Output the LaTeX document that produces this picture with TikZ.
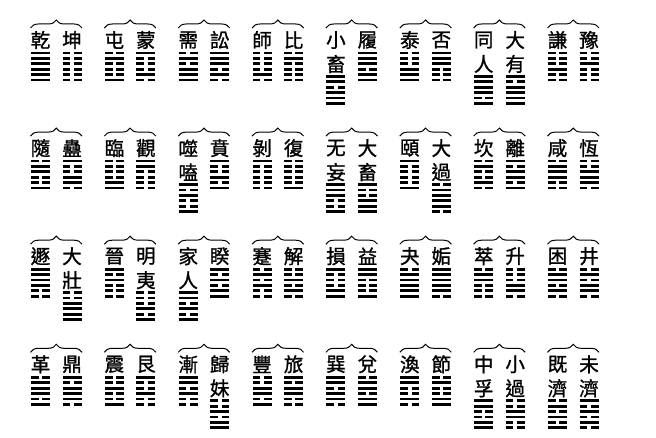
\documentclass[tikz,border=0pt]{standalone}
\usepackage{fontspec}
\newfontfamily\cjk[FakeBold=1.2]{Noto Sans CJK TC}
\usetikzlibrary{decorations.pathreplacing}
\tikzset{
  gname/.style={font=\cjk\fontsize{19.5}{19.5}\selectfont, inner sep=0pt},
  yao/.style={line width=2.8pt},
  brc/.style={decorate, decoration={brace, amplitude=8pt}, line width=1pt}
}
% #1 node name, #2 x centre, #3 y of first character, #4 char 1, #5 char 2, #6 lines top to bottom
\newcommand\gua[6]{%
  \node[gname] (#1a) at (#2,#3) {#4};
  \def\tmpb{#5}%
  \ifx\tmpb\empty
    \pgfmathsetmacro\hy{#3+13}%
  \else
    \node[gname] (#1b) at (#2,#3+24) {#5};
    \pgfmathsetmacro\hy{#3+36.5}%
  \fi
  \foreach \b [count=\k from 0] in {#6} {
    \pgfmathsetmacro\yy{\hy+5.4*\k}
    \ifnum\b=1
      \draw[yao] (#2-9.5,\yy) -- (#2+9.5,\yy);
    \else
      \draw[yao] (#2-9.5,\yy) -- (#2-1.8,\yy);
      \draw[yao] (#2+1.8,\yy) -- (#2+9.5,\yy);
    \fi
  }%
}
% #1 col, #2 row, #3 #4 left name, #5 left lines, #6 #7 right name, #8 right lines
\newcommand\duigua[8]{%
  \pgfmathsetmacro\xl{31+73.86*#1}%
  \pgfmathsetmacro\yc{40+108.1*#2}%
  \pgfmathsetmacro\xa{\xl+9.5}%
  \pgfmathsetmacro\xb{\xl+41}%
  \coordinate (s#1#2) at (\xl-0.5,\yc-12);
  \coordinate (e#1#2) at (\xl+51,\yc-12);
  \draw[brc] (s#1#2) -- (e#1#2);
  \gua{L#1#2}{\xa}{\yc}{#3}{#4}{#5}%
  \gua{R#1#2}{\xb}{\yc}{#6}{#7}{#8}%
}
\begin{document}
\begin{tikzpicture}[x=1pt,y=-1pt]
\useasboundingbox (0,0) rectangle (656,438);
% row 0
\duigua{0}{0}{乾}{}{1,1,1,1,1,1}{坤}{}{0,0,0,0,0,0}
\duigua{1}{0}{屯}{}{0,1,0,0,0,1}{蒙}{}{1,0,0,0,1,0}
\duigua{2}{0}{需}{}{0,1,0,1,1,1}{訟}{}{1,1,1,0,1,0}
\duigua{3}{0}{師}{}{0,0,0,0,1,0}{比}{}{0,1,0,0,0,0}
\duigua{4}{0}{小}{畜}{1,1,0,1,1,1}{履}{}{1,1,1,0,1,1}
\duigua{5}{0}{泰}{}{0,0,0,1,1,1}{否}{}{1,1,1,0,0,0}
\duigua{6}{0}{同}{人}{1,1,1,1,0,1}{大}{有}{1,0,1,1,1,1}
\duigua{7}{0}{謙}{}{0,0,0,1,0,0}{豫}{}{0,0,1,0,0,0}
% row 1
\duigua{0}{1}{隨}{}{0,1,1,0,0,1}{蠱}{}{1,0,0,1,1,0}
\duigua{1}{1}{臨}{}{0,0,0,0,1,1}{觀}{}{1,1,0,0,0,0}
\duigua{2}{1}{噬}{嗑}{1,0,1,0,0,1}{賁}{}{1,0,0,1,0,1}
\duigua{3}{1}{剝}{}{1,0,0,0,0,0}{復}{}{0,0,0,0,0,1}
\duigua{4}{1}{无}{妄}{1,1,1,0,0,1}{大}{畜}{1,0,0,1,1,1}
\duigua{5}{1}{頤}{}{1,0,0,0,0,1}{大}{過}{0,1,1,1,1,0}
\duigua{6}{1}{坎}{}{0,1,0,0,1,0}{離}{}{1,0,1,1,0,1}
\duigua{7}{1}{咸}{}{0,1,1,1,0,0}{恆}{}{0,0,1,1,1,0}
% row 2
\duigua{0}{2}{遯}{}{1,1,1,1,0,0}{大}{壯}{0,0,1,1,1,1}
\duigua{1}{2}{晉}{}{1,0,1,0,0,0}{明}{夷}{0,0,0,1,0,1}
\duigua{2}{2}{家}{人}{1,1,0,1,0,1}{睽}{}{1,0,1,0,1,1}
\duigua{3}{2}{蹇}{}{0,1,0,1,0,0}{解}{}{0,0,1,0,1,0}
\duigua{4}{2}{損}{}{1,0,0,0,1,1}{益}{}{1,1,0,0,0,1}
\duigua{5}{2}{夬}{}{0,1,1,1,1,1}{姤}{}{1,1,1,1,1,0}
\duigua{6}{2}{萃}{}{0,1,1,0,0,0}{升}{}{0,0,0,1,1,0}
\duigua{7}{2}{困}{}{0,1,1,0,1,0}{井}{}{0,1,0,1,1,0}
% row 3
\duigua{0}{3}{革}{}{0,1,1,1,0,1}{鼎}{}{1,0,1,1,1,0}
\duigua{1}{3}{震}{}{0,0,1,0,0,1}{艮}{}{1,0,0,1,0,0}
\duigua{2}{3}{漸}{}{1,1,0,1,0,0}{歸}{妹}{0,0,1,0,1,1}
\duigua{3}{3}{豐}{}{0,0,1,1,0,1}{旅}{}{1,0,1,1,0,0}
\duigua{4}{3}{巽}{}{1,1,0,1,1,0}{兌}{}{0,1,1,0,1,1}
\duigua{5}{3}{渙}{}{1,1,0,0,1,0}{節}{}{0,1,0,0,1,1}
\duigua{6}{3}{中}{孚}{1,1,0,0,1,1}{小}{過}{0,0,1,1,0,0}
\duigua{7}{3}{既}{濟}{0,1,0,1,0,1}{未}{濟}{1,0,1,0,1,0}
\end{tikzpicture}
\end{document}
